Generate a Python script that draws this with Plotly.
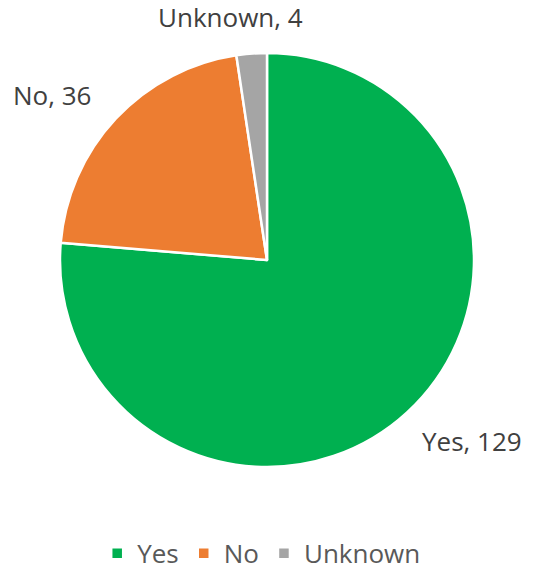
import plotly.graph_objects as go

categories = ["Yes", "No", "Unknown"]
counts = [129, 36, 4]
colors = ["#00B050", "#ED7D31", "#A5A5A5"]

# label anchor points (paper coordinates) for each slice's data label
label_x = [0.995, -0.020, 0.411]
label_y = [0.063, 0.899, 1.087]

FONT = "Open Sans, Liberation Sans, sans-serif"

fig = go.Figure(
    go.Pie(
        labels=categories,
        values=counts,
        sort=False,
        direction="clockwise",
        rotation=0,
        marker=dict(colors=colors, line=dict(color="white", width=2.5)),
        textinfo="none",
        hoverinfo="label+value",
    )
)

annotations = [
    dict(
        x=x, y=y, xref="paper", yref="paper",
        text=f"{c}, {v}", showarrow=False,
        xanchor="center", yanchor="middle",
        font=dict(family=FONT, size=26, color="#404040"),
    )
    for c, v, x, y in zip(categories, counts, label_x, label_y)
]

fig.update_layout(
    width=534,
    height=571,
    margin=dict(l=60, r=60, t=53, b=104, autoexpand=False),
    paper_bgcolor="white",
    plot_bgcolor="white",
    annotations=annotations,
    showlegend=True,
    legend=dict(
        orientation="h",
        x=0.486, xanchor="center",
        yref="container",
        y=0.031, yanchor="middle",
        font=dict(family=FONT, size=26, color="#595959"),
        itemwidth=30,
    ),
)

fig.write_html("out.html")
